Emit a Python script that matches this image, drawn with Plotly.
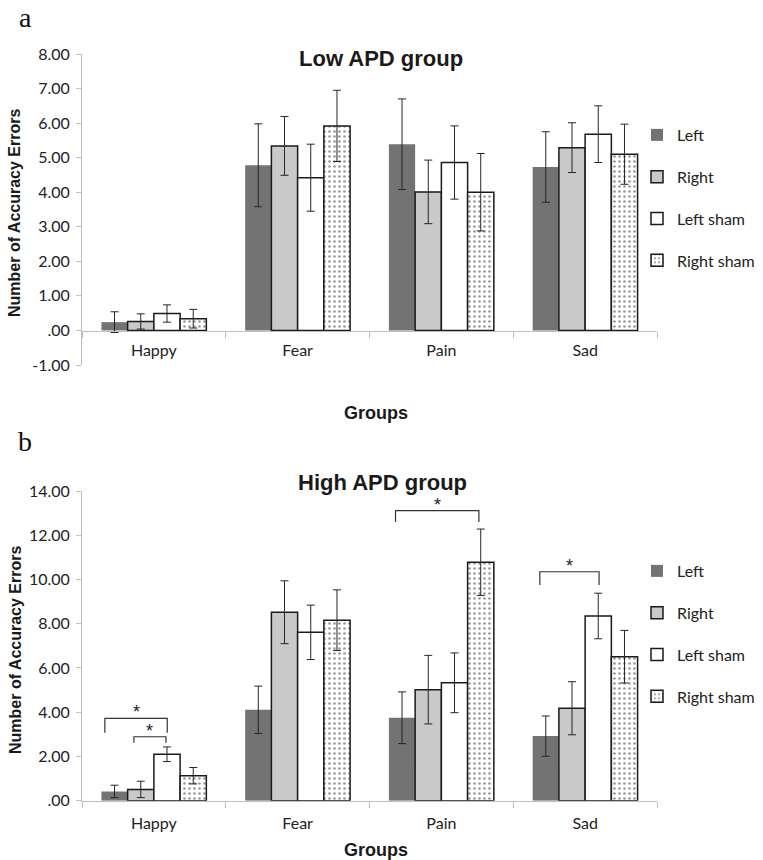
import plotly.graph_objects as go

# ---------------- data ----------------
categories = ["Happy", "Fear", "Pain", "Sad"]
series_names = ["Left", "Right", "Left sham", "Right sham"]

# (a) Low APD group: means and error (+/-)
low_left = [0.24, 4.78, 5.39, 4.73]
low_left_err = [0.30, 1.20, 1.31, 1.02]
low_right = [0.26, 5.34, 4.01, 5.29]
low_right_err = [0.22, 0.85, 0.92, 0.72]
low_lsham = [0.49, 4.42, 4.86, 5.68]
low_lsham_err = [0.25, 0.97, 1.06, 0.82]
low_rsham = [0.34, 5.92, 4.00, 5.10]
low_rsham_err = [0.27, 1.03, 1.12, 0.87]

# (b) High APD group
high_left = [0.42, 4.11, 3.75, 2.92]
high_left_err = [0.28, 1.07, 1.17, 0.91]
high_right = [0.51, 8.52, 5.02, 4.18]
high_right_err = [0.37, 1.42, 1.55, 1.20]
high_lsham = [2.10, 7.61, 5.33, 8.35]
high_lsham_err = [0.33, 1.23, 1.35, 1.03]
high_rsham = [1.13, 8.16, 10.78, 6.51]
high_rsham_err = [0.37, 1.37, 1.50, 1.19]

low_tick_vals = [-1, 0, 1, 2, 3, 4, 5, 6, 7, 8]
low_tick_text = ["-1.00", ".00", "1.00", "2.00", "3.00", "4.00", "5.00", "6.00", "7.00", "8.00"]
high_tick_vals = [0, 2, 4, 6, 8, 10, 12, 14]
high_tick_text = [".00", "2.00", "4.00", "6.00", "8.00", "10.00", "12.00", "14.00"]

# significance brackets in panel b: category, start offset, end offset, level, left drop, right drop
sig_cat = [0, 0, 2, 3]
sig_x0 = [-0.341, -0.139, -0.319, -0.315]
sig_x1 = [0.093, 0.084, 0.261, 0.097]
sig_y = [3.72, 2.89, 13.11, 10.35]
sig_drop_l = [3.07, 2.62, 12.60, 9.75]
sig_drop_r = [3.07, 2.62, 12.60, 9.75]

# ---------------- layout helpers ----------------
W, H = 763, 860


def py(p):
    return 1 - p / H


XL, XR = 82 / W, 657 / W
xs = list(range(len(categories)))

styles = [
    dict(color="#737373", line=dict(color="#737373", width=0)),
    dict(color="#c8c9c8", line=dict(color="#1a1a1a", width=1.5)),
    dict(color="#ffffff", line=dict(color="#1a1a1a", width=1.5)),
    dict(color="#ffffff", line=dict(color="#1a1a1a", width=1.5),
         pattern=dict(shape=".", fgcolor="#333333", bgcolor="#ffffff", size=5, solidity=0.22)),
]

low_vals = [low_left, low_right, low_lsham, low_rsham]
low_errs = [low_left_err, low_right_err, low_lsham_err, low_rsham_err]
high_vals = [high_left, high_right, high_lsham, high_rsham]
high_errs = [high_left_err, high_right_err, high_lsham_err, high_rsham_err]

fig = go.Figure()
for panel, (vals, errs, xa, ya, lg) in enumerate([
        (low_vals, low_errs, "x", "y", "legend"),
        (high_vals, high_errs, "x2", "y2", "legend2")]):
    for i, name in enumerate(series_names):
        fig.add_trace(go.Bar(
            x=xs, y=vals[i], name=name, xaxis=xa, yaxis=ya, legend=lg,
            legendgroup=f"{lg}_{i}",
            marker=styles[i],
            error_y=dict(type="data", array=errs[i], color="#262626", thickness=1, width=4),
        ))

tickfont = dict(family="Lato", size=16, color="#222")
axcol = "#bfbfbf"
minor = dict(tickmode="array", tickvals=[-0.5, 0.5, 1.5, 2.5, 3.5], ticks="outside",
             ticklen=6, tickcolor=axcol, tickwidth=1)

common_x = dict(range=[-0.5, 3.5], tickmode="array", tickvals=xs, ticktext=categories,
                ticks="", showline=True, linecolor=axcol, linewidth=1, showgrid=False,
                zeroline=False, tickfont=tickfont, minor=minor, fixedrange=True)
common_y = dict(tickmode="array", ticks="outside", ticklen=5, tickcolor=axcol,
                showline=True, linecolor=axcol, linewidth=1, showgrid=False, zeroline=False,
                tickfont=tickfont, ticklabelstandoff=3)

legend_common = dict(xanchor="left", yanchor="top",
                     font=dict(family="Lato", size=16, color="#222"),
                     bgcolor="rgba(0,0,0,0)", tracegroupgap=18)

fig.update_layout(
    width=W, height=H, margin=dict(l=0, r=0, t=0, b=0, autoexpand=False),
    paper_bgcolor="white", plot_bgcolor="white",
    barmode="group", bargap=0.27, bargroupgap=0,
    xaxis=dict(domain=[XL, XR], anchor="free", position=py(330.7),
               ticklabelstandoff=5, **common_x),
    yaxis=dict(domain=[py(365), py(54)], range=[-1, 8], anchor="x",
               tickvals=low_tick_vals, ticktext=low_tick_text, **common_y),
    xaxis2=dict(domain=[XL, XR], anchor="y2", ticklabelstandoff=8, **common_x),
    yaxis2=dict(domain=[py(800.7), py(491)], range=[0, 14], anchor="x2",
                tickvals=high_tick_vals, ticktext=high_tick_text, **common_y),
    legend=dict(x=637 / W, y=py(118), **legend_common),
    legend2=dict(x=637 / W, y=py(554), **legend_common),
    showlegend=True,
)

ann = []
title_font = dict(family="Liberation Sans", size=22, color="#1a1a1a")
lab_font = dict(family="Liberation Serif", size=28, color="#111")
ytitle_font = dict(family="Liberation Sans", size=16, color="#1a1a1a")
grp_font = dict(family="Liberation Sans", size=18, color="#1a1a1a")


def paper_text(text, xp, yp, font, angle=0):
    ann.append(dict(text=text, x=xp / W, y=py(yp), xref="paper", yref="paper",
                    xanchor="center", yanchor="middle", showarrow=False,
                    textangle=angle, font=font))


paper_text("a", 25, 18, lab_font)
paper_text("b", 25, 441, lab_font)
paper_text("<b>Low APD group</b>", 381, 59, title_font)
paper_text("<b>High APD group</b>", 382, 483, title_font)
paper_text("<b>Number of Accuracy Errors</b>", 15, 213, ytitle_font, -90)
paper_text("<b>Number of Accuracy Errors</b>", 15, 650, ytitle_font, -90)
paper_text("<b>Groups</b>", 376, 413, grp_font)
paper_text("<b>Groups</b>", 376, 850, grp_font)

shapes = []
for c, a0, a1, yv, dl, dr in zip(sig_cat, sig_x0, sig_x1, sig_y, sig_drop_l, sig_drop_r):
    x0 = xs[c] + a0
    x1 = xs[c] + a1
    shapes.append(dict(type="path", xref="x2", yref="y2",
                       path=f"M {x0},{dl} L {x0},{yv} L {x1},{yv} L {x1},{dr}",
                       line=dict(color="#333", width=1.2)))
    ann.append(dict(text="*", x=(x0 + x1) / 2, y=yv, xref="x2", yref="y2", showarrow=False,
                    xanchor="center", yanchor="bottom", yshift=-6,
                    font=dict(family="Liberation Sans", size=18, color="#222")))

fig.update_layout(annotations=ann, shapes=shapes)
fig.write_html("out.html")
